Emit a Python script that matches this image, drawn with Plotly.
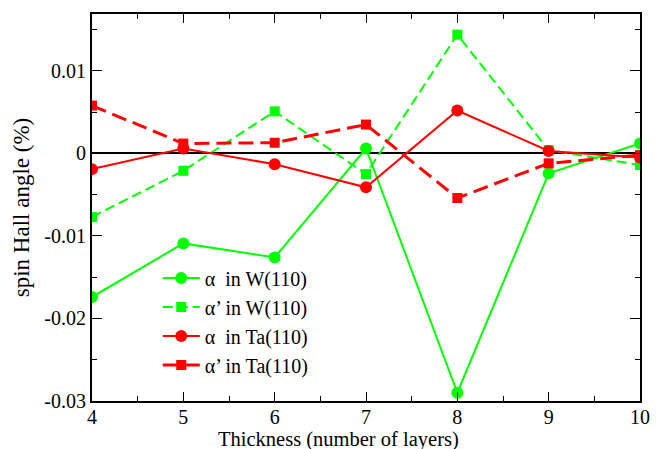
import plotly.graph_objects as go

thickness = [4, 5, 6, 7, 8, 9, 10]
alpha_W = [-0.0174, -0.0109, -0.0126, 0.0006, -0.0290, -0.0024, 0.0012]
alphap_W = [-0.0077, -0.0021, 0.0051, -0.0025, 0.0144, 0.0004, -0.0014]
alpha_Ta = [-0.0019, 0.0006, -0.0013, -0.0041, 0.0052, 0.0003, -0.0005]
alphap_Ta = [0.0058, 0.0012, 0.0013, 0.0035, -0.0054, -0.0012, -0.0002]

y_tickvals = [-0.03, -0.02, -0.01, 0, 0.01]
y_ticktext = ["-0.03", "-0.02", "-0.01", "0", "0.01"]
x_tickvals = [4, 5, 6, 7, 8, 9, 10]

GREEN = "#00ff00"
RED = "#ff0000"
FONT = "Liberation Serif"

fig = go.Figure()
fig.add_trace(go.Scatter(x=thickness, y=alpha_W, mode="lines+markers",
                         name="\u03b1\u00a0 in W(110)",
                         line=dict(color=GREEN, width=2),
                         marker=dict(symbol="circle", size=12, color=GREEN)))
fig.add_trace(go.Scatter(x=thickness, y=alphap_W, mode="lines+markers",
                         name="\u03b1\u2019 in W(110)",
                         line=dict(color=GREEN, width=2, dash="10px,5px"),
                         marker=dict(symbol="square", size=10, color=GREEN)))
fig.add_trace(go.Scatter(x=thickness, y=alpha_Ta, mode="lines+markers",
                         name="\u03b1\u00a0 in Ta(110)",
                         line=dict(color=RED, width=2),
                         marker=dict(symbol="circle", size=12, color=RED)))
fig.add_trace(go.Scatter(x=thickness, y=alphap_Ta, mode="lines+markers",
                         name="\u03b1\u2019 in Ta(110)",
                         line=dict(color=RED, width=3, dash="15px,7px"),
                         marker=dict(symbol="square", size=10, color=RED)))

axis_common = dict(showline=True, linecolor="black", linewidth=2, mirror="ticks",
                   ticks="inside", tickcolor="black", tickwidth=1, showgrid=False,
                   tickfont=dict(family=FONT, size=20, color="black"))

fig.update_xaxes(range=[4, 10], tickvals=x_tickvals, ticklen=9, ticklabelstandoff=-3,
                 minor=dict(dtick=0.5, ticks="inside", ticklen=5, tickcolor="black", tickwidth=1),
                 zeroline=False, **axis_common)
fig.update_yaxes(range=[-0.03, 0.0169], tickvals=y_tickvals, ticktext=y_ticktext, ticklen=10,
                 minor=dict(tickvals=[-0.025, -0.015, -0.005, 0.005, 0.015], ticks="inside",
                            ticklen=5, tickcolor="black", tickwidth=1),
                 title_text="spin Hall angle (%)", title_standoff=8,
                 title_font=dict(family=FONT, size=23, color="black"),
                 zeroline=True, zerolinecolor="black", zerolinewidth=2, **axis_common)

fig.add_annotation(text="Thickness (number of layers)", xref="paper", yref="paper",
                   x=0.45, y=-0.1, xanchor="center", yanchor="middle", showarrow=False,
                   font=dict(family=FONT, size=20.5, color="black"))

fig.update_layout(width=662, height=449,
                  margin=dict(l=92, r=13, t=12, b=48),
                  paper_bgcolor="white", plot_bgcolor="white",
                  showlegend=True,
                  legend=dict(x=0.12, y=0.368, xanchor="left", yanchor="top",
                              bgcolor="rgba(0,0,0,0)", tracegroupgap=0,
                              font=dict(family=FONT, size=20, color="black"),
                              itemwidth=37))

fig.write_html("out.html")
